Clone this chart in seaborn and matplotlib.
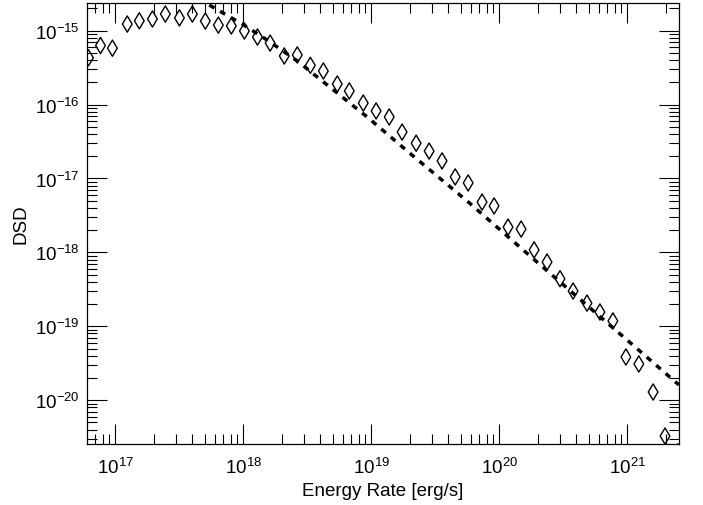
import numpy as np
import pandas as pd
import matplotlib
matplotlib.use("Agg")
import matplotlib.pyplot as plt
import matplotlib.ticker as mticker
import seaborn as sns

# ---- data ----
energy_rate = [6.17e16, 7.66e16, 9.49e16, 1.24e17, 1.54e17, 1.95e17, 2.46e17, 3.17e17,
               4.00e17, 5.05e17, 6.38e17, 8.06e17, 1.02e18, 1.29e18, 1.62e18, 2.09e18,
               2.64e18, 3.34e18, 4.22e18, 5.42e18, 6.73e18, 8.65e18, 1.09e19, 1.38e19,
               1.74e19, 2.24e19, 2.83e19, 3.57e19, 4.52e19, 5.71e19, 7.33e19, 9.10e19,
               1.17e20, 1.48e20, 1.87e20, 2.36e20, 2.98e20, 3.77e20, 4.84e20, 6.11e20,
               7.72e20, 9.75e20, 1.23e21, 1.59e21, 1.97e21, 2.48e21]
dsd = [4.3e-16, 6.3e-16, 5.8e-16, 1.23e-15, 1.36e-15, 1.44e-15, 1.68e-15, 1.49e-15,
       1.68e-15, 1.35e-15, 1.19e-15, 1.16e-15, 9.9e-16, 8.2e-16, 6.8e-16, 4.55e-16,
       4.7e-16, 3.4e-16, 2.85e-16, 1.9e-16, 1.53e-16, 1.05e-16, 8.2e-17, 6.8e-17,
       4.25e-17, 3.0e-17, 2.35e-17, 1.73e-17, 1.05e-17, 8.7e-18, 4.8e-18, 4.25e-18,
       2.2e-18, 2.07e-18, 1.08e-18, 7.4e-19, 4.4e-19, 3.0e-19, 2.06e-19, 1.56e-19,
       1.18e-19, 3.84e-20, 3.09e-20, 1.29e-20, 3.27e-21, 2.0e-21]

fit_x = [3.53e17, 5.24e17, 9.82e17, 1.62e18, 2.64e18, 4.53e18, 9.29e18, 1.91e19,
         5.61e19, 1.97e20, 6.70e20, 2.53e21]
fit_y = [3.34e-15, 2.30e-15, 1.23e-15, 7.03e-16, 3.89e-16, 1.84e-16, 6.79e-17, 2.35e-17,
         4.95e-18, 7.41e-19, 1.18e-19, 1.61e-20]

x_ticks = [1e17, 1e18, 1e19, 1e20, 1e21]
y_ticks = [1e-20, 1e-19, 1e-18, 1e-17, 1e-16, 1e-15]

x_label = "Energy Rate [erg/s]"
y_label = "DSD"

# ---- styling ----
sns.set_theme(style="ticks")
plt.rcParams["font.family"] = ["Liberation Sans", "DejaVu Sans"]
plt.rcParams["mathtext.fontset"] = "custom"
plt.rcParams["mathtext.rm"] = "Liberation Sans"
plt.rcParams["mathtext.it"] = "Liberation Sans:italic"
plt.rcParams["axes.unicode_minus"] = True

fig = plt.figure(figsize=(7.03, 5.06), dpi=100)
ax = fig.add_axes([87 / 703, 1 - 445.3 / 506, (678.7 - 87) / 703, (445.3 - 4) / 506])
ax.set_xscale("log")
ax.set_yscale("log")

pts = pd.DataFrame({"x": energy_rate, "y": dsd})
fit = pd.DataFrame({"x": fit_x, "y": fit_y})

sns.scatterplot(data=pts, x="x", y="y", ax=ax, marker="d", s=68,
                facecolor="none", edgecolor="black", linewidth=1.0, zorder=3)
sns.lineplot(data=fit, x="x", y="y", ax=ax, color="black", linewidth=2.5,
             linestyle=(0, (1.7, 1.9)), sort=True, zorder=4)

ax.set_xlim(6.01e16, 2.52e21)
ax.set_ylim(2.53e-21, 2.37e-15)

ax.xaxis.set_major_locator(mticker.FixedLocator(x_ticks))
ax.yaxis.set_major_locator(mticker.FixedLocator(y_ticks))
ax.xaxis.set_major_formatter(mticker.LogFormatterSciNotation(base=10))
ax.yaxis.set_major_formatter(mticker.LogFormatterSciNotation(base=10))
ax.xaxis.set_minor_locator(mticker.LogLocator(base=10, subs=np.arange(2, 10), numticks=100))
ax.yaxis.set_minor_locator(mticker.LogLocator(base=10, subs=np.arange(2, 10), numticks=100))
ax.xaxis.set_minor_formatter(mticker.NullFormatter())
ax.yaxis.set_minor_formatter(mticker.NullFormatter())

ax.tick_params(which="both", direction="in", top=True, right=True, color="black",
               labelsize=13.5, labelcolor="black")
ax.tick_params(which="major", length=14.4, width=0.8)
ax.tick_params(which="minor", length=7.2, width=0.8)
ax.tick_params(axis="x", which="major", pad=9)
ax.tick_params(axis="y", which="major", pad=5)

for sp in ax.spines.values():
    sp.set_color("black")
    sp.set_linewidth(0.9)

ax.set_xlabel(x_label, fontsize=13.5, color="black", labelpad=4)
ax.set_ylabel(y_label, fontsize=13.5, color="black", labelpad=4)

fig.savefig("out.png", dpi=100)
